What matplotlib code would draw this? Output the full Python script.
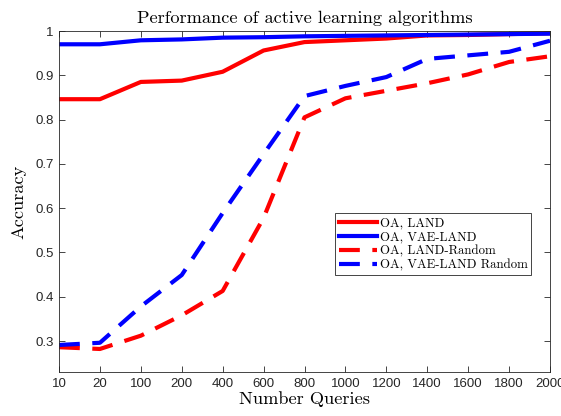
import matplotlib
matplotlib.use("Agg")
import matplotlib.pyplot as plt
import numpy as np

queries = ["10", "20", "100", "200", "400", "600", "800", "1000", "1200", "1400", "1600", "1800", "2000"]
oa_land = [0.846, 0.846, 0.885, 0.888, 0.908, 0.956, 0.975, 0.979, 0.983, 0.990, 0.991, 0.993, 0.995]
oa_vae_land = [0.970, 0.970, 0.979, 0.981, 0.985, 0.986, 0.988, 0.989, 0.990, 0.991, 0.992, 0.993, 0.994]
oa_land_random = [0.286, 0.282, 0.312, 0.358, 0.413, 0.578, 0.805, 0.848, 0.865, 0.882, 0.902, 0.930, 0.943]
oa_vae_land_random = [0.291, 0.296, 0.378, 0.449, 0.589, 0.722, 0.853, 0.876, 0.896, 0.937, 0.945, 0.953, 0.978]
series_labels = ["OA, LAND", "OA, VAE-LAND", "OA, LAND-Random", "OA, VAE-LAND Random"]

plt.rcParams['font.family'] = ['Liberation Sans', 'DejaVu Sans']

fig = plt.figure(figsize=(5.61, 4.16), dpi=100)
ax = fig.add_axes([59/561, 1-372/416, 491/561, 341/416])
x = np.arange(len(queries))
lw = 3.0
ax.plot(x, oa_land, color="#ff0000", lw=lw, label=series_labels[0])
ax.plot(x, oa_vae_land, color="#0000ff", lw=lw, label=series_labels[1])
ax.plot(x, oa_land_random, color="#ff0000", lw=lw, dashes=(5, 3), label=series_labels[2])
ax.plot(x, oa_vae_land_random, color="#0000ff", lw=lw, dashes=(5, 3), label=series_labels[3])

ax.set_xlim(0, len(queries)-1)
ax.set_ylim(0.23, 1.0)
ax.set_xticks(x)
ax.set_xticklabels(queries)
ax.set_yticks([0.3, 0.4, 0.5, 0.6, 0.7, 0.8, 0.9, 1.0])
ax.set_yticklabels(["0.3", "0.4", "0.5", "0.6", "0.7", "0.8", "0.9", "1"])
ax.tick_params(direction="in", length=4, width=0.6, colors="#262626", labelsize=9.5,
               top=True, right=True, labelcolor="#262626", pad=4)
for s in ax.spines.values():
    s.set_color("#262626")
    s.set_linewidth(0.6)

serif = "cmr10"
ax.set_title("Performance of active learning algorithms", family=serif, fontsize=13.2, pad=6)
ax.set_xlabel("Number Queries", family=serif, fontsize=13.2, labelpad=1)
ax.set_ylabel("Accuracy", family=serif, fontsize=13.2, labelpad=6)

leg = ax.legend(loc="lower left", bbox_to_anchor=(0.562, 0.284), prop={"family": serif, "size": 9.2},
                frameon=True, fancybox=False, edgecolor="#262626", framealpha=1,
                handlelength=3.0, handletextpad=0.2, borderpad=0.3, labelspacing=0.15,
                borderaxespad=0)
leg.get_frame().set_linewidth(0.6)

fig.savefig("out.png", dpi=100)
